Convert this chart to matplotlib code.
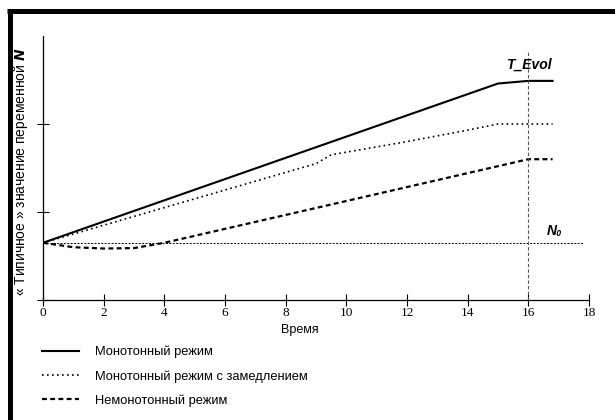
import numpy as np
import matplotlib
matplotlib.use("Agg")
import matplotlib.pyplot as plt
from matplotlib.lines import Line2D

plt.rcParams['font.family'] = ['Liberation Sans', 'DejaVu Sans']

# data (y in arbitrary units, N0 level = 0.65)
t_mono = [0, 15, 16, 16.8]
n_mono = [0.65, 2.46, 2.49, 2.49]

t_slow = [0, 2, 4, 6, 8, 9, 9.5, 10, 12, 14, 15, 16, 16.8]
n_slow = [0.65, 0.85, 1.05, 1.25, 1.45, 1.55, 1.65, 1.68, 1.80, 1.93, 2.0, 2.0, 2.0]

t_nonmono = [0, 1, 2, 3, 4, 16, 16.8]
n_nonmono = [0.65, 0.60, 0.585, 0.59, 0.65, 1.60, 1.60]

n0 = 0.65
t_evol = 16
x_ticks = [0, 2, 4, 6, 8, 10, 12, 14, 16, 18]
labels = ["Монотонный режим", "Монотонный режим с замедлением", "Немонотонный режим"]

fig = plt.figure(figsize=(6.15, 4.2), dpi=100)
ax = fig.add_axes([43/615, 1-300/420, (589-43)/615, (300-36)/420])

l1, = ax.plot(t_mono, n_mono, color='black', lw=1.5, ls='-')
l2, = ax.plot(t_slow, n_slow, color='black', lw=1.2, ls=(0, (1, 2)))
l3, = ax.plot(t_nonmono, n_nonmono, color='black', lw=1.6, ls=(0, (2.2, 1.5)))

# N0 level and T_Evol marker
ax.plot([0, 17.8], [n0, n0], color='black', lw=0.7, ls=(0, (2, 1.5)), clip_on=False)
ax.plot([t_evol, t_evol], [0, 2.84], color='#555555', lw=0.8, ls=(0, (3, 2)))
ax.text(16.6, n0 + 0.06, "N₀", fontsize=10, fontweight='bold', style='italic', ha='left', va='bottom')
ax.text(t_evol, 2.59, "T_Evol", fontsize=10, fontweight='bold', style='italic', ha='center', va='bottom')

ax.set_xlim(0, 18)
ax.set_ylim(0, 3)
ax.set_xticks(x_ticks)
ax.set_xticklabels([str(v) for v in x_ticks], family=['Liberation Serif'], fontsize=9.5)
ax.set_yticks([0, 1, 2])
ax.set_yticklabels([])
ax.tick_params(direction='inout', length=8, width=0.8, colors='black')
ax.tick_params(axis='x', pad=1)
for s in ['top', 'right']:
    ax.spines[s].set_visible(False)
for s in ['left', 'bottom']:
    ax.spines[s].set_linewidth(0.9)

fig.text(21/615, 1-172/420, "« Типичное » значение переменной $\\boldsymbol{N}$",
         rotation=90, ha='center', va='center', fontsize=10)
fig.text(300/615, 1-330/420, "Время", ha='center', va='center', fontsize=9)

fig.legend([l1, l2, l3], labels, loc='upper left', bbox_to_anchor=(42/615, 1-346/420),
           frameon=False, fontsize=9.3, handlelength=2.9, handletextpad=1.2,
           labelspacing=0.9, borderaxespad=0, borderpad=0)

# thick black frame on top and left edge
fig.add_artist(Line2D([7/615, 1], [1-10.5/420, 1-10.5/420], color='black', lw=3.6,
                      solid_capstyle='butt', transform=fig.transFigure))
fig.add_artist(Line2D([9.5/615, 9.5/615], [0, 1-10.5/420], color='black', lw=3.6,
                      solid_capstyle='butt', transform=fig.transFigure))

fig.savefig("out.png", dpi=100)
